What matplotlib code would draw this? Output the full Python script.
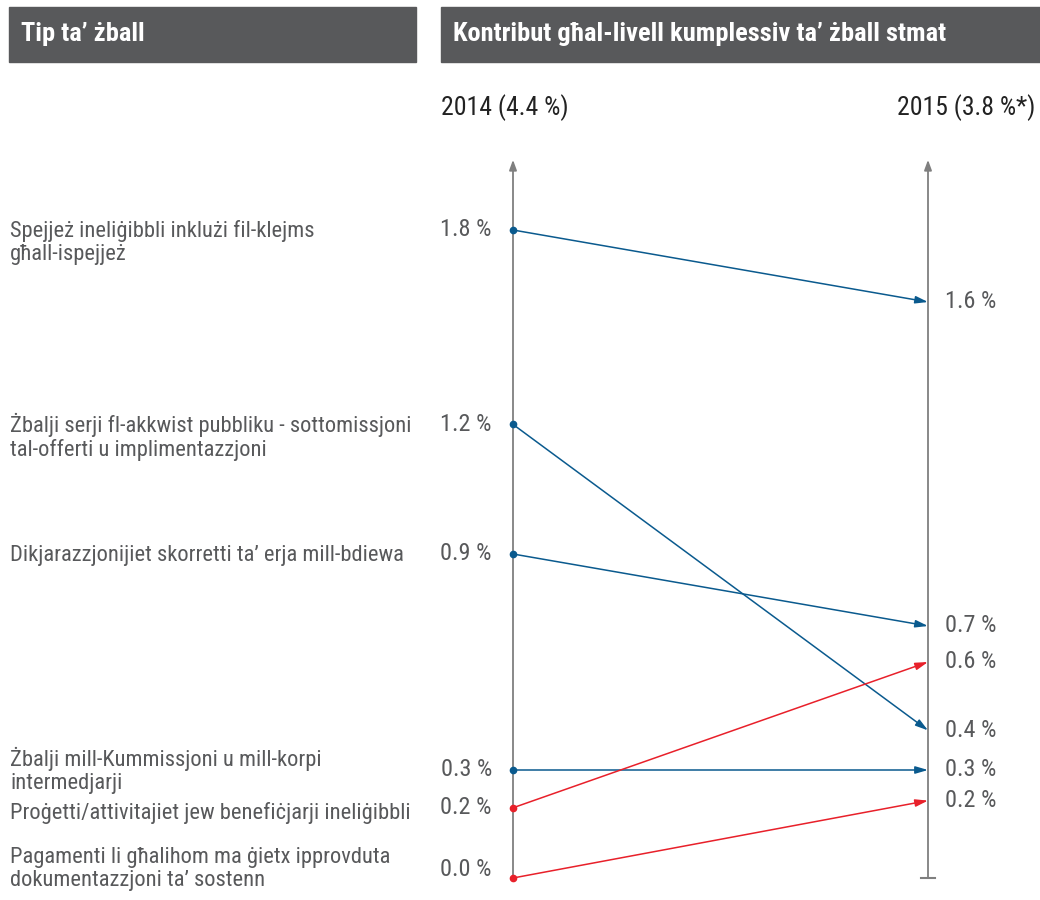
import matplotlib
matplotlib.use("Agg")
import matplotlib.pyplot as plt
from matplotlib import font_manager
from matplotlib.patches import Rectangle

#Data
categories = [
    "Spejjeż ineliġibbli inklużi fil-klejms\ngħall-ispejjeż",
    "Żbalji serji fl-akkwist pubbliku - sottomissjoni\ntal-offerti u implimentazzjoni",
    "Dikjarazzjonijiet skorretti ta’ erja mill-bdiewa",
    "Żbalji mill-Kummissjoni u mill-korpi\nintermedjarji",
    "Proġetti/attivitajiet jew benefiċjarji ineliġibbli",
    "Pagamenti li għalihom ma ġietx ipprovduta\ndokumentazzjoni ta’ sostenn",
]
values_2014 = [1.8, 1.26, 0.9, 0.3, 0.195, 0.0]
values_2015 = [1.6, 0.41, 0.7, 0.3, 0.6, 0.215]
labels_2014 = ["1.8 %", "1.2 %", "0.9 %", "0.3 %", "0.2 %", "0.0 %"]
labels_2015 = ["1.6 %", "0.4 %", "0.7 %", "0.3 %", "0.6 %", "0.2 %"]
increase = [False, False, False, False, True, True]

title_left = "Tip ta’ żball"
title_right = "Kontribut għal-livell kumplessiv ta’ żball stmat"
year_left = "2014 (4.4 %)"
year_right = "2015 (3.8 %*)"

#Font: pick a narrow one if it exists
available = {f.name for f in font_manager.fontManager.ttflist}
font = "DejaVu Sans"
for name in ["Roboto Condensed", "Liberation Sans Narrow", "DejaVu Sans Condensed"]:
    if name in available:
        font = name
        break
plt.rcParams["font.family"] = [font, "DejaVu Sans"]

text_grey = "#58595b"
axis_grey = "#7f7f7f"
blue = "#0a5a8e"
red = "#e8202a"

fig = plt.figure(figsize=(10.4, 9), dpi=100)

#Header bars (figure coords)
fig.patches.append(Rectangle((9 / 1040, 1 - 62 / 900), 407 / 1040, 55 / 900,
                             transform=fig.transFigure, color=text_grey, zorder=0))
fig.patches.append(Rectangle((441 / 1040, 1 - 62 / 900), 599 / 1040, 55 / 900,
                             transform=fig.transFigure, color=text_grey, zorder=0))
fig.text(21 / 1040, 1 - 34 / 900, title_left, color="white", fontsize=19,
         fontweight="bold", va="center", ha="left")
fig.text(453 / 1040, 1 - 34 / 900, title_right, color="white", fontsize=19,
         fontweight="bold", va="center", ha="left")
fig.text(441 / 1040, 1 - 108 / 900, year_left, color="#222222", fontsize=18.5,
         va="center", ha="left")
fig.text(1035 / 1040, 1 - 108 / 900, year_right, color="#222222", fontsize=18.5,
         va="center", ha="right")

#Slope axes: x=0 is 2014, x=1 is 2015
ax = fig.add_axes([513 / 1040, 22 / 900, 415 / 1040, 648 / 900])
ax.set_xlim(0, 1)
ax.set_ylim(0, 1.8)
ax.axis("off")

#Vertical axes with arrow heads
for x in [0, 1]:
    ax.annotate("", xy=(x, 1.995), xytext=(x, 0), xycoords="data",
                arrowprops=dict(arrowstyle="-|>,head_length=0.6,head_width=0.22",
                                color=axis_grey, lw=1.3, shrinkA=0, shrinkB=0),
                annotation_clip=False)
ax.plot([0.982, 1.018], [0, 0], color=axis_grey, lw=1.5, clip_on=False)

for i in range(len(categories)):
    c = red if increase[i] else blue
    ax.annotate("", xy=(1, values_2015[i]), xytext=(0, values_2014[i]),
                arrowprops=dict(arrowstyle="-|>,head_length=0.75,head_width=0.22",
                                color=c, lw=1.1, shrinkA=0, shrinkB=0),
                annotation_clip=False, zorder=3)
    ax.plot(0, values_2014[i], "o", color=c, ms=4.5, clip_on=False, zorder=4)

#Value labels
left_off = [0, 0, 0, 0, 0, 0.025]
for i in range(len(categories)):
    ax.annotate(labels_2014[i], xy=(0, values_2014[i] + left_off[i]),
                xytext=(-21, 0), textcoords="offset pixels", ha="right",
                va="center", fontsize=17.5, color=text_grey, annotation_clip=False)
    ax.annotate(labels_2015[i], xy=(1, values_2015[i]), xytext=(17, 0),
                textcoords="offset pixels", ha="left", va="center",
                fontsize=17.5, color=text_grey, annotation_clip=False)

#Category labels: two-line ones at the top start on the value line
label_va = ["top", "top", "center", "center", "center", "center"]
label_dy = [10, 12, -2, 0, -5, 0]
for i in range(len(categories)):
    ax.annotate(categories[i], xy=(0, values_2014[i] + left_off[i]),
                xycoords="data", xytext=(10 - 513, label_dy[i]),
                textcoords="offset pixels", ha="left", va=label_va[i],
                fontsize=16.2, color=text_grey, linespacing=1.12,
                annotation_clip=False)

fig.savefig("out.png", dpi=100)
